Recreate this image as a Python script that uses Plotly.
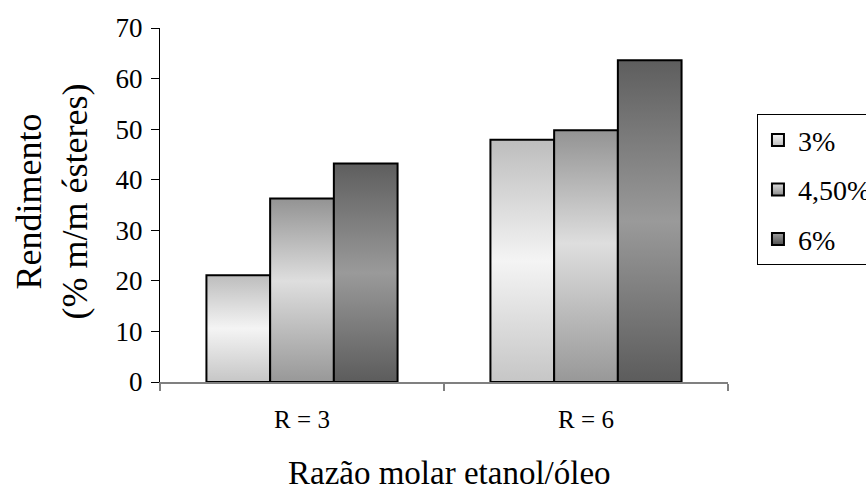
import plotly.graph_objects as go

# Data
categories = ["R = 3", "R = 6"]
series_names = ["3%", "4,50%", "6%"]
yield_3 = [21.1, 47.9]
yield_45 = [36.3, 49.8]
yield_6 = [43.2, 63.6]
series_values = [yield_3, yield_45, yield_6]

# Vertical gradients (bottom -> middle -> top) for each catalyst level
gradients = [
    [[0, "#c6c6c6"], [0.5, "#f4f4f4"], [1, "#bdbdbd"]],
    [[0, "#989898"], [0.55, "#dedede"], [1, "#939393"]],
    [[0, "#5c5c5c"], [0.5, "#9a9a9a"], [1, "#5e5e5e"]],
]
legend_colors = [("#f6f6f6", "#bcbcbc"), ("#dcdcdc", "#8c8c8c"), ("#a0a0a0", "#505050")]

FONT = "Liberation Serif, Times New Roman, serif"
bargap = 0.327
n = len(series_names)
w = (1 - bargap) / n

fig = go.Figure()

for s, (name, vals) in enumerate(zip(series_names, series_values)):
    for c, v in enumerate(vals):
        left = c + (s - (n - 1) / 2) * w - w / 2
        right = left + w
        fig.add_trace(go.Scatter(
            x=[left, left, right, right, left],
            y=[0, v, v, 0, 0],
            mode="lines",
            fill="toself",
            fillgradient=dict(type="vertical", colorscale=gradients[s]),
            line=dict(color="black", width=2),
            name=name,
            showlegend=False,
            hoverinfo="skip",
        ))

# Legend entries
for s, name in enumerate(series_names):
    top_c, bot_c = legend_colors[s]
    fig.add_trace(go.Scatter(
        x=[None], y=[None],
        mode="markers",
        name=name,
        legendgroup=name,
        marker=dict(symbol="square", size=15, color=top_c,
                    gradient=dict(type="vertical", color=bot_c),
                    line=dict(color="black", width=2)),
    ))

fig.update_layout(
    width=866, height=493,
    margin=dict(l=160, r=138, t=28, b=111, autoexpand=False),
    paper_bgcolor="white", plot_bgcolor="white",
    font=dict(family=FONT, color="black", size=26),
    showlegend=True,
    legend=dict(
        x=1.051, y=0.756, xanchor="left", yanchor="top",
        bordercolor="black", borderwidth=1, bgcolor="white",
        font=dict(family=FONT, size=28, color="black"),
        traceorder="grouped", tracegroupgap=10,
        itemsizing="constant",
    ),
    xaxis=dict(
        range=[-0.5, 1.5], showgrid=False, zeroline=False,
        showline=True, linecolor="#808080", linewidth=1.5,
        tickmode="array", tickvals=[0, 1], ticktext=categories,
        ticks="", ticklabelstandoff=14,
        tickfont=dict(family=FONT, size=25),
        minor=dict(tickmode="array", tickvals=[-0.5, 0.5, 1.5],
                   ticks="outside", ticklen=7, tickcolor="#808080", tickwidth=1.5),
    ),
    yaxis=dict(
        range=[0, 70], dtick=10, showgrid=False, zeroline=False,
        showline=True, linecolor="black", linewidth=1,
        ticks="outside", ticklen=8, tickcolor="black",
        ticklabelstandoff=3,
        tickfont=dict(family=FONT, size=27),
    ),
    annotations=[
        dict(text="Rendimento<br>(% m/m ésteres)", textangle=-90,
             xref="paper", yref="paper", x=-0.19, y=0.51,
             xanchor="center", yanchor="middle", showarrow=False,
             font=dict(family=FONT, size=36)),
        dict(text="Razão molar etanol/óleo",
             xref="paper", yref="paper", x=0.51, y=-0.258,
             xanchor="center", yanchor="middle", showarrow=False,
             font=dict(family=FONT, size=33)),
    ],
)

fig.write_html("out.html")
